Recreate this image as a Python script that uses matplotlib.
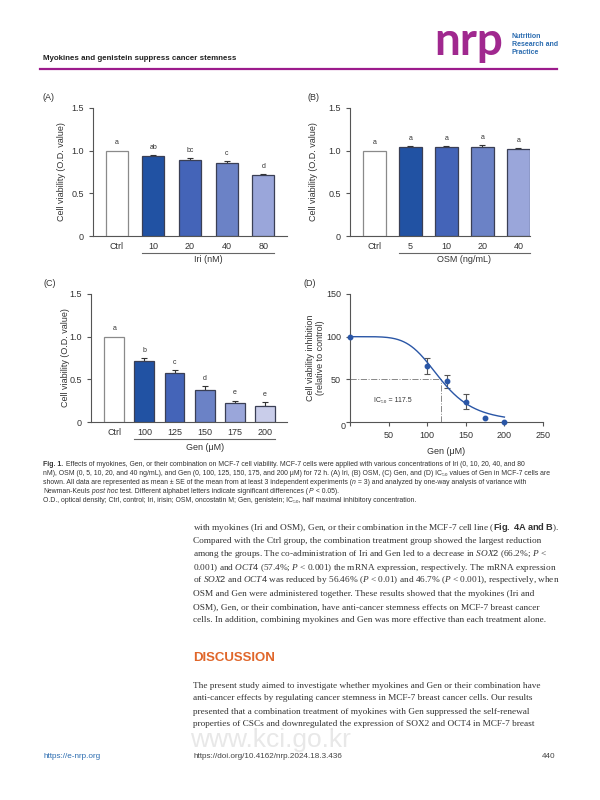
import numpy as np
import matplotlib.pyplot as plt
from matplotlib import transforms

plt.rcParams['font.family'] = ['Liberation Sans', 'DejaVu Sans']
plt.rcParams['mathtext.fontset'] = 'custom'
plt.rcParams['mathtext.rm'] = 'Liberation Sans'
plt.rcParams['mathtext.it'] = 'Liberation Serif:italic'
plt.rcParams['mathtext.bf'] = 'Liberation Sans:bold'

# Dados dos painéis
iri_labels = ['Ctrl', '10', '20', '40', '80']
iri_values = [1.0, 0.94, 0.89, 0.86, 0.71]
iri_err = [0.0, 0.01, 0.02, 0.02, 0.02]
iri_letters = ['a', 'ab', 'bc', 'c', 'd']

osm_labels = ['Ctrl', '5', '10', '20', '40']
osm_values = [1.0, 1.04, 1.04, 1.04, 1.02]
osm_err = [0.0, 0.015, 0.015, 0.03, 0.01]
osm_letters = ['a', 'a', 'a', 'a', 'a']

gen_labels = ['Ctrl', '100', '125', '150', '175', '200']
gen_values = [1.0, 0.72, 0.57, 0.38, 0.22, 0.19]
gen_err = [0.0, 0.026, 0.04, 0.04, 0.03, 0.04]
gen_letters = ['a', 'b', 'c', 'd', 'e', 'e']

dose_x = [0, 100, 125, 150, 175, 200]
dose_inhib = [100, 65.5, 47.5, 24, 4.5, 0]
dose_err = [0, 9, 8, 8.5, 0, 0]
ic50 = 117.5
hill = 5.25

bar_colors = ['#ffffff', '#2152a3', '#4464b8', '#6b82c6', '#9aa6da', '#c9cdea']
point_blue = '#2a56a6'
axis_gray = '#555555'

# legenda: segmentos (texto, estilo); espaços sempre no início do segmento
caption_lines = [
    [("Fig. 1.", 'b'), (" Effects of myokines, Gen, or their combination on MCF-7 cell viability. MCF-7 cells were applied with various concentrations of Iri (0, 10, 20, 40, and 80", 'n')],
    [("nM), OSM (0, 5, 10, 20, and 40 ng/mL), and Gen (0, 100, 125, 150, 175, and 200 μM) for 72 h. (A) Iri, (B) OSM, (C) Gen, and (D) IC₅₀ values of Gen in MCF-7 cells are", 'n')],
    [("shown. All data are represented as mean ± SE of the mean from at least 3 independent experiments (", 'n'), ("n", 'i'), (" = 3) and analyzed by one-way analysis of variance with", 'n')],
    [("Newman-Keuls", 'n'), (" post hoc", 'i'), (" test. Different alphabet letters indicate significant differences (", 'n'), ("P", 'i'), (" < 0.05).", 'n')],
    [("O.D., optical density; Ctrl, control; Iri, irisin; OSM, oncostatin M; Gen, genistein; IC₅₀, half maximal inhibitory concentration.", 'n')],
]
caption_y = [464, 473, 482, 491, 500]

body_lines = [
    r"with myokines (Iri and OSM), Gen, or their combination in the MCF-7 cell line ($\mathbf{Fig.\ 4A\ and\ B}$).",
    r"Compared with the Ctrl group, the combination treatment group showed the largest reduction",
    r"among the groups. The co-administration of Iri and Gen led to a decrease in $\mathit{SOX2}$ (66.2%; $\mathit{P}$ <",
    r"0.001) and $\mathit{OCT4}$ (57.4%; $\mathit{P}$ < 0.001) the mRNA expression, respectively. The mRNA expression",
    r"of $\mathit{SOX2}$ and $\mathit{OCT4}$ was reduced by 56.46% ($\mathit{P}$ < 0.01) and 46.7% ($\mathit{P}$ < 0.001), respectively, when",
    r"OSM and Gen were administered together. These results showed that the myokines (Iri and",
    r"OSM), Gen, or their combination, have anti-cancer stemness effects on MCF-7 breast cancer",
    r"cells. In addition, combining myokines and Gen was more effective than each treatment alone.",
]
body_y = [528, 541, 554.5, 567.5, 580.5, 594, 607, 620]

disc_lines = [
    "The present study aimed to investigate whether myokines and Gen or their combination have",
    "anti-cancer effects by regulating cancer stemness in MCF-7 breast cancer cells. Our results",
    "presented that a combination treatment of myokines with Gen suppressed the self-renewal",
    "properties of CSCs and downregulated the expression of SOX2 and OCT4 in MCF-7 breast",
]
disc_y = [685.5, 698.5, 711.5, 724.5]


def fy(y):
    # converte pixel vertical da página para fração da figura
    return 1 - y / 800


def px_axes(x0, y0, x1, y1):
    return fig.add_axes([x0 / 600, fy(y1), (x1 - x0) / 600, (y1 - y0) / 800])


def style_axes(ax):
    ax.spines[['top', 'right']].set_visible(False)
    for s in ['left', 'bottom']:
        ax.spines[s].set_color(axis_gray)
        ax.spines[s].set_linewidth(0.8)
    ax.tick_params(axis='both', colors=axis_gray, labelcolor='#333333',
                   labelsize=6.5, width=0.8, length=3)


def rich_line(x_px, y_px, segs, size, color):
    # escreve segmentos com estilos diferentes lado a lado
    renderer = fig.canvas.get_renderer()
    x = x_px
    for txt, st in segs:
        kw = {}
        if st == 'b':
            kw['fontweight'] = 'bold'
        if st == 'i':
            kw['fontstyle'] = 'italic'
        t = fig.text(x / 600, fy(y_px), txt, fontsize=size, color=color, va='baseline', **kw)
        x = t.get_window_extent(renderer).x1 + 0.3


def bar_panel(ax, labels, values, err, letters, width, xlim, group_label, line_y, label_y, ylab_x):
    n = len(values)
    x = np.arange(n)
    edges = ['#8a8a8a'] + ['#3a3f55'] * (n - 1)
    ax.bar(x, values, width, color=bar_colors[:n], edgecolor=edges, linewidth=0.9, zorder=3)
    ax.errorbar(x[1:], values[1:], yerr=[np.zeros(n - 1), err[1:]], fmt='none',
                ecolor='#333333', elinewidth=0.8, capsize=2.5, capthick=0.8, zorder=2)
    for xi, v, e, l in zip(x, values, err, letters):
        ax.annotate(l, (xi, v + e), xytext=(0, 3), textcoords='offset points',
                    ha='center', va='bottom', fontsize=5, color='#333333')
    ax.set_xlim(*xlim)
    ax.set_ylim(0, 1.5)
    ax.set_yticks([0, 0.5, 1.0, 1.5])
    ax.set_yticklabels(['0', '0.5', '1.0', '1.5'])
    ax.set_xticks(x)
    ax.set_xticklabels(labels)
    style_axes(ax)
    ax.tick_params(axis='x', length=0, pad=4)
    ax.set_ylabel('Cell viability (O.D. value)', fontsize=6.5, color='#333333', va='center')
    ax.yaxis.set_label_coords(ylab_x, 0.5)
    trans = transforms.blended_transform_factory(ax.transData, ax.transAxes)
    ax.plot([x[1] - width / 2, x[-1] + width / 2], [line_y, line_y], transform=trans,
            clip_on=False, color='#666666', lw=0.8)
    ax.text((x[1] + x[-1]) / 2, label_y, group_label, transform=trans, ha='center',
            va='center', fontsize=6.5, color='#333333')


fig = plt.figure(figsize=(6, 8), dpi=100)

# Cabeçalho
fig.text(43 / 600, fy(58), 'Myokines and genistein suppress cancer stemness', fontsize=5.7,
         fontweight='bold', color='#222222', va='center')
fig.add_artist(plt.Line2D([40 / 600, 557 / 600], [fy(69), fy(69)], color='#9c1b8c', lw=1.6))
fig.text(434 / 600, fy(55), 'nrp', fontsize=33, fontweight='bold', color='#a0288f',
         family='Lato', va='baseline')
fig.text(512 / 600, fy(33), 'Nutrition\nResearch and\nPractice', fontsize=5.0,
         fontweight='bold', color='#2b6cb0', va='top', linespacing=1.15)

# Painel A
axA = px_axes(93, 108, 287, 236)
bar_panel(axA, iri_labels, iri_values, iri_err, iri_letters, 0.6, (-0.65, 4.65),
          'Iri (nM)', -0.13, -0.185, -0.16)
fig.text(42 / 600, fy(98), '(A)', fontsize=6.5, va='center', color='#333333')

# Painel B
axB = px_axes(350, 108, 530, 236)
bar_panel(axB, osm_labels, osm_values, osm_err, osm_letters, 0.64, (-0.68, 4.32),
          'OSM (ng/mL)', -0.13, -0.185, -0.2)
fig.text(307 / 600, fy(98), '(B)', fontsize=6.5, va='center', color='#333333')

# Painel C
axC = px_axes(91, 294, 287, 422)
bar_panel(axC, gen_labels, gen_values, gen_err, gen_letters, 0.66, (-0.77, 5.73),
          'Gen (μM)', -0.133, -0.2, -0.13)
fig.text(44 / 600, fy(284), '(C)', fontsize=6.5, va='center', color='#333333')

# Painel D - curva dose-resposta
axD = px_axes(350, 294, 543, 422)
xs = np.linspace(0, 200, 300)
axD.plot(xs, 100 / (1 + (xs / ic50) ** hill), color=point_blue, lw=1.0, zorder=3)
axD.plot([0, ic50], [50, 50], ls='-.', color='#888888', lw=0.7, zorder=2)
axD.plot([ic50, ic50], [0, 50], ls='-.', color='#888888', lw=0.7, zorder=2)
ex = [x for x, e in zip(dose_x, dose_err) if e > 0]
ey = [y for y, e in zip(dose_inhib, dose_err) if e > 0]
ee = [e for e in dose_err if e > 0]
axD.errorbar(ex, ey, yerr=ee, fmt='none', ecolor='#555555', elinewidth=0.8,
             capsize=2.5, capthick=0.8, zorder=2)
axD.plot(dose_x, dose_inhib, 'o', ms=3.2, color=point_blue, zorder=4, clip_on=False)
axD.text(56, 25, 'IC₅₀ = 117.5', fontsize=5, ha='center', va='center', color='#333333')
axD.set_xlim(0, 250)
axD.set_ylim(0, 150)
axD.set_xticks([0, 50, 100, 150, 200, 250])
axD.set_xticklabels(['', '50', '100', '150', '200', '250'])
axD.set_yticks([0, 50, 100, 150])
axD.set_yticklabels(['', '50', '100', '150'])
style_axes(axD)
axD.text(-9, 0, '0', transform=transforms.blended_transform_factory(axD.transData, axD.transAxes),
         fontsize=6.5, ha='center', va='top', color='#333333')
axD.set_xlabel('Gen (μM)', fontsize=6.5, color='#333333', labelpad=5)
axD.set_ylabel('Cell viability inhibition\n(relative to control)', fontsize=6.5,
               color='#333333', va='center', linespacing=1.2)
axD.yaxis.set_label_coords(-0.18, 0.5)
fig.text(303 / 600, fy(284), '(D)', fontsize=6.5, va='center', color='#333333')

# Legenda da figura
for segs, y in zip(caption_lines, caption_y):
    rich_line(43, y + 2, segs, 4.95, '#333333')

# Marca d'água
fig.text(190 / 600, fy(740), 'www.kci.go.kr', fontsize=19, color='#e8e8e8', va='center', zorder=0)

# Texto do corpo
for line, y in zip(body_lines, body_y):
    fig.text(193 / 600, fy(y), line, fontsize=6.65, family='Liberation Serif',
             color='#333333', va='center')
fig.text(193 / 600, fy(658), 'DISCUSSION', fontsize=9.5, fontweight='bold',
         color='#e0662a', va='center')
for line, y in zip(disc_lines, disc_y):
    fig.text(193 / 600, fy(y), line, fontsize=6.65, family='Liberation Serif',
             color='#333333', va='center')

# Rodapé
fig.text(43 / 600, fy(756), 'https://e-nrp.org', fontsize=5.85, color='#2b6cb0', va='center')
fig.text(193 / 600, fy(756), 'https://doi.org/10.4162/nrp.2024.18.3.436', fontsize=5.85,
         color='#444444', va='center')
fig.text(555 / 600, fy(756), '440', fontsize=5.85, color='#444444', va='center', ha='right')

fig.savefig('out.png', dpi=100)
